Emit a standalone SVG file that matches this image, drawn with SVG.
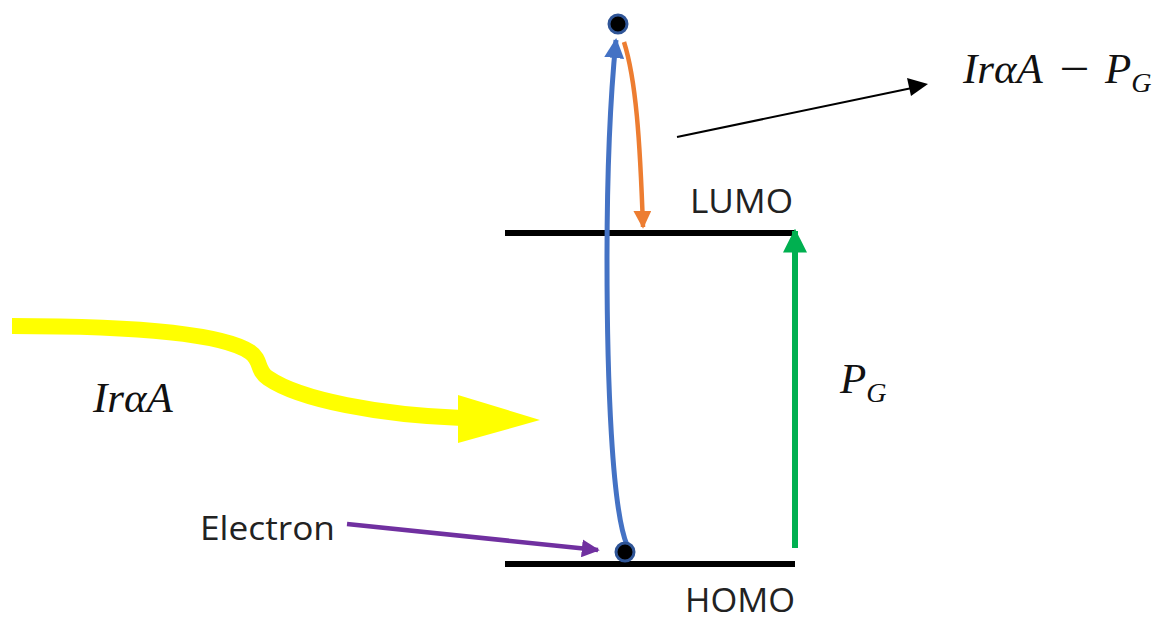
<svg xmlns="http://www.w3.org/2000/svg" width="1157" height="621" viewBox="0 0 1157 621">
<style>
.lvl{stroke:#000;stroke-width:6;fill:none}
.lbl{font-family:"Open Sans","Liberation Sans",sans-serif;font-size:33px;fill:#222}
.math{font-family:"Liberation Serif",serif;font-style:italic;fill:#111;font-size:43px}
.sub{font-size:28px}
.dot{fill:#000;stroke:#2f5597;stroke-width:3}
</style>
<defs>
<marker id="mBlue" viewBox="0 0 10 10" refX="9" refY="5" markerWidth="4" markerHeight="4" orient="auto" markerUnits="strokeWidth"><path d="M0,0 L10,5 L0,10 Z" fill="#4472c4"/></marker>
<marker id="mOrange" viewBox="0 0 10 10" refX="9" refY="5" markerWidth="4" markerHeight="4" orient="auto" markerUnits="strokeWidth"><path d="M0,0 L10,5 L0,10 Z" fill="#ed7d31"/></marker>
<marker id="mPurple" viewBox="0 0 10 10" refX="9" refY="5" markerWidth="4" markerHeight="4" orient="auto" markerUnits="strokeWidth"><path d="M0,0 L10,5 L0,10 Z" fill="#7030a0"/></marker>
<marker id="mGreen" viewBox="0 0 10 10" refX="9" refY="5" markerWidth="4" markerHeight="4" orient="auto" markerUnits="strokeWidth"><path d="M0,0 L10,5 L0,10 Z" fill="#00b050"/></marker>
</defs>

<g id="lumo">
<line class="lvl" x1="505" y1="233" x2="795" y2="233"/>
<text class="lbl" x="690" y="213" textLength="103" lengthAdjust="spacingAndGlyphs">LUMO</text>
</g>
<g id="homo">
<line class="lvl" x1="505" y1="564" x2="795" y2="564"/>
<text class="lbl" x="685" y="612" font-size="30" textLength="110" lengthAdjust="spacingAndGlyphs">HOMO</text>
</g>

<g id="connectors">
<path d="M627,545 C612,510 607,380 607,260 C607,150 612,80 616,40" fill="none" stroke="#4472c4" stroke-width="5" marker-end="url(#mBlue)"/>
<path d="M624,42 C636,80 640,140 643,227" fill="none" stroke="#ed7d31" stroke-width="4.5" marker-end="url(#mOrange)"/>
<line x1="795" y1="548" x2="795" y2="231" stroke="#00b050" stroke-width="6" marker-end="url(#mGreen)"/>
<line x1="347" y1="524" x2="598" y2="550" stroke="#7030a0" stroke-width="4.5" marker-end="url(#mPurple)"/>
<line x1="677" y1="137" x2="912" y2="88" stroke="#000" stroke-width="2"/>
<path d="M928,84 L907,78 L911,96 Z" fill="#000"/>
<path d="M12,326 C120,326 220,332 250,352 C262,360 256,370 268,378 C300,400 380,415 462,418" fill="none" stroke="#ffff00" stroke-width="16"/>
<path d="M458,395 L540,420 L458,443 Z" fill="#ffff00"/>
</g>

<g id="electron-top"><circle class="dot" cx="618" cy="24" r="9"/></g>
<g id="electron-bottom"><circle class="dot" cx="625" cy="552" r="9"/></g>

<g id="labels">
<text class="lbl" x="200" y="540" textLength="135" lengthAdjust="spacingAndGlyphs">Electron</text>
<text class="math" x="93" y="412">IrαA</text>
<text class="math" x="840" y="393">P<tspan class="sub" dy="9">G</tspan></text>
<text class="math" x="963" y="83">IrαA</text>
<text class="math" x="1056" y="83" font-style="normal" textLength="36" lengthAdjust="spacingAndGlyphs">−</text>
<text class="math" x="1105" y="83">P<tspan class="sub" dy="9">G</tspan></text>
</g>
</svg>
